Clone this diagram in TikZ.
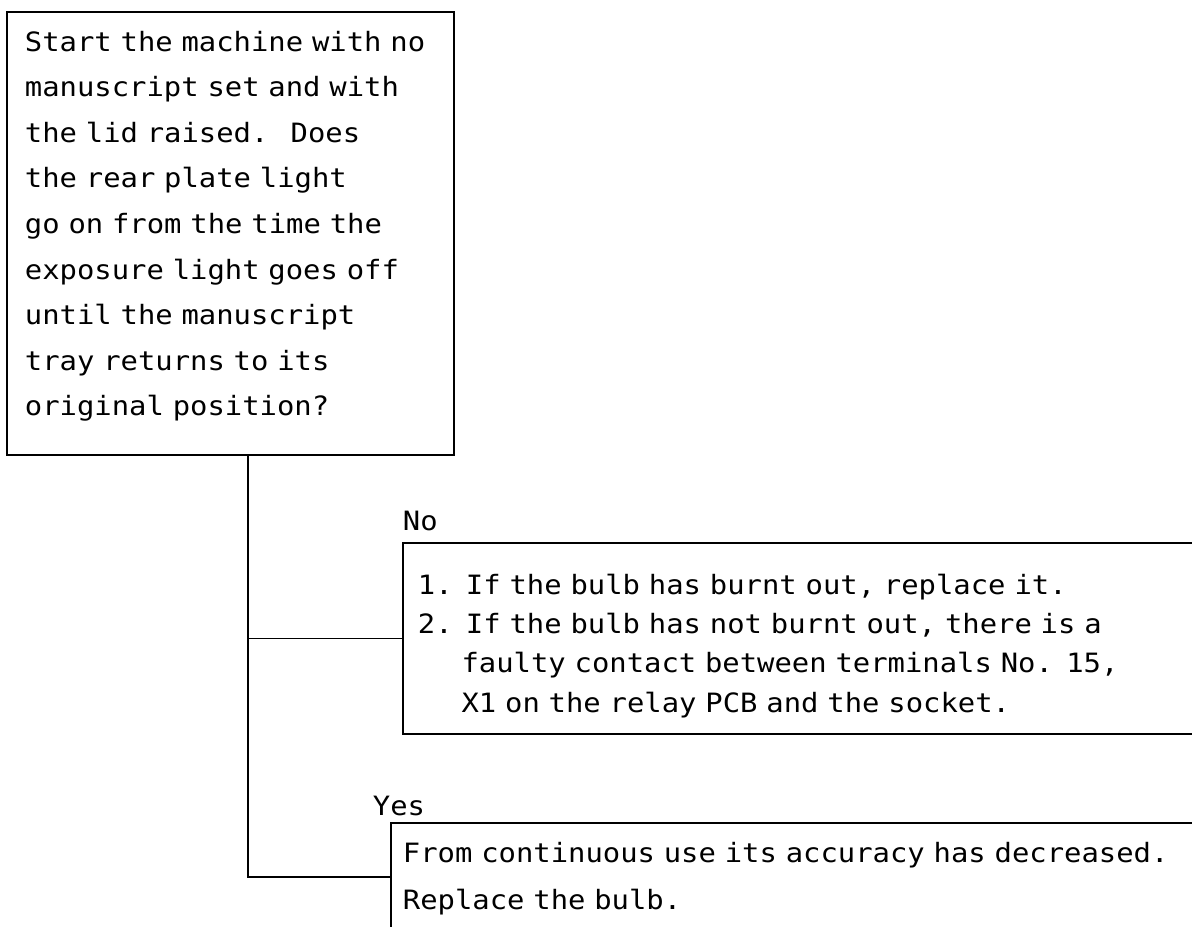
\documentclass[tikz,border=0pt]{standalone}
\usepackage{fontspec}
\newfontfamily\scanmono[FakeStretch=1.085]{DejaVu Sans Mono}
% a block of typewriter lines that never rewraps
\newcommand\typed[1]{\begin{tabular}{@{}l@{}}#1\end{tabular}}
\begin{document}
\begin{tikzpicture}[x=0.5pt,y=-0.5pt,line width=0.9pt,
  txt/.style={font=\scanmono\fontsize{13.3pt}{22.8pt}\selectfont,align=left},
  box/.style={draw,anchor=north west,inner ysep=0pt}]
\useasboundingbox (0,0) rectangle (1192,926);

% question box
\node[box,txt,minimum width=223.5pt,minimum height=221.5pt,text width=205.5pt,inner xsep=9pt] (q) at (6,11)
 {\typed{Start the machine with no\\
  manuscript set and with\\
  the lid raised.~ Does\\
  the rear plate light\\
  go on from the time the\\
  exposure light goes off\\
  until the manuscript\\
  tray returns to its\\
  original position?\rule[-15.8pt]{0pt}{15.8pt}}};

% answer for "No"
\node[box,txt,font=\scanmono\fontsize{13.3pt}{19.65pt}\selectfont,minimum width=404pt,minimum height=95.5pt,text width=389pt,inner xsep=7.5pt] (no) at (402,542)
 {\typed{\rule{0pt}{20.7pt}1. If the bulb has burnt out, replace it.\\
  2. If the bulb has not burnt out, there is a\\
  \hphantom{2.~}faulty contact between terminals No. 15,\\
  \hphantom{2.~}X1 on the relay PCB and the socket.}};

% answer for "Yes"
\node[box,txt,font=\scanmono\fontsize{13.3pt}{23.5pt}\selectfont,minimum width=410pt,minimum height=54pt,text width=398pt,inner xsep=6pt] (yes) at (390,822)
 {\typed{From continuous use its accuracy has decreased.\\
  Replace the bulb.}};

% branch labels
\node[txt,anchor=base west,inner sep=0pt] (nolab) at ([yshift=6pt]no.north west) {No};
\node[txt,anchor=base west,inner sep=0pt] (yeslab) at ([xshift=-9pt,yshift=3.5pt]yes.north west) {Yes};

% connectors
\draw ([xshift=8.75pt]q.south) |- (no.west);
\draw ([xshift=8.75pt]q.south) |- (yes.west);
\end{tikzpicture}
\end{document}
